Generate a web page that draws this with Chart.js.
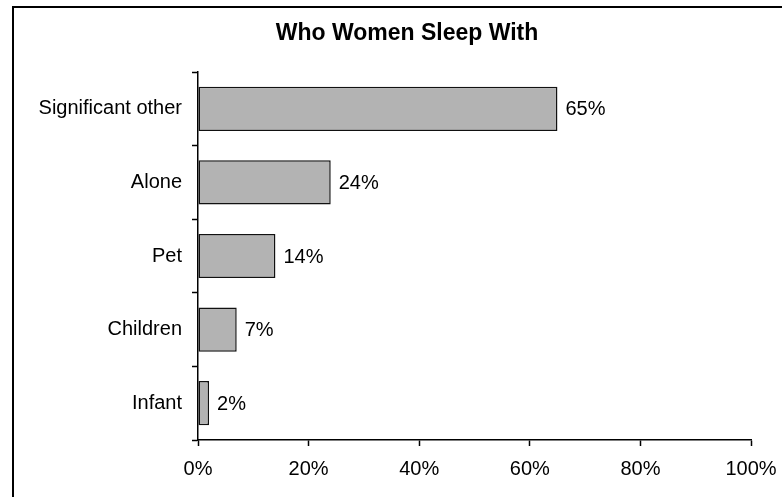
<!DOCTYPE html>
<html lang="en">
<head>
    <meta charset="UTF-8">
    <title>Who Women Sleep With</title>
    <script src="https://cdn.jsdelivr.net/npm/chart.js"></script>
    <style>
        body { margin: 0; background: #fff; }
        #wrap { position: relative; width: 782px; height: 497px; overflow: hidden; }
        /* frame of the original picture, only left and top edges visible */
        #frame {
          position: absolute;
          left: 12px;
          top: 6px;
          width: 900px;
          height: 600px;
          border-left: 2px solid #000;
          border-top: 2px solid #000;
        }
        #myChart { position: absolute; left: 0; top: 0; }
    </style>
</head>
<body>

<div id="wrap">
    <div id="frame"></div>
    <canvas id="myChart" width="782" height="497"></canvas>
</div>

<script>
  // chart data
  var categories = ['Significant other', 'Alone', 'Pet', 'Children', 'Infant'];
  var shares = [65, 24, 14, 7, 2];
  var xTicks = [0, 20, 40, 60, 80, 100];
  var chartTitle = 'Who Women Sleep With';

  var fontFamily = '"Liberation Sans", Arial, sans-serif';

  // title is centred a bit right of the canvas middle, like the original
  var titleText = {
    id: 'titleText',
    afterDraw: function(chart) {
      var ctx = chart.ctx;
      ctx.save();
      ctx.font = 'bold 23px ' + fontFamily;
      ctx.fillStyle = '#000';
      ctx.textAlign = 'center';
      ctx.textBaseline = 'middle';
      ctx.fillText(chartTitle, 407, 34);
      ctx.restore();
    }
  };

  // writes the value just right of each bar
  var valueLabels = {
    id: 'valueLabels',
    afterDatasetsDraw: function(chart) {
      var ctx = chart.ctx;
      var meta = chart.getDatasetMeta(0);
      ctx.save();
      ctx.font = '20px ' + fontFamily;
      ctx.fillStyle = '#000';
      ctx.textAlign = 'left';
      ctx.textBaseline = 'middle';
      meta.data.forEach(function(bar, i) {
        ctx.fillText(shares[i] + '%', bar.x + 8, bar.y + 1);
      });
      ctx.restore();
    }
  };

  var ctx = document.getElementById('myChart').getContext('2d');
  var myChart = new Chart(ctx, {
    type: 'bar',
    data: {
      labels: categories,
      datasets: [{
        data: shares,
        backgroundColor: '#b3b3b3',
        borderColor: '#111',
        borderWidth: 1.5,
        borderSkipped: false,
        barPercentage: 0.6,
        categoryPercentage: 1
      }]
    },
    options: {
      indexAxis: 'y',
      responsive: false,
      animation: false,
      layout: { padding: { left: 0, right: 31, top: 72, bottom: 0 } },
      plugins: {
        legend: { display: false },
        tooltip: { enabled: false },
        title: { display: false }
      },
      scales: {
        x: {
          min: 0,
          max: 100,
          afterFit: function(scale) {
            scale.height = 57;
            scale.paddingLeft = 0;
            scale.paddingRight = 0;
          },
          afterBuildTicks: function(scale) {
            scale.ticks = xTicks.map(function(v) { return { value: v }; });
          },
          ticks: {
            color: '#000',
            padding: 11,
            font: { family: fontFamily, size: 20 },
            callback: function(v) { return v + '%'; }
          },
          grid: {
            drawOnChartArea: false,
            tickLength: 6,
            tickColor: '#000',
            tickWidth: 1.5
          },
          border: { color: '#000', width: 1.5 }
        },
        y: {
          afterFit: function(scale) { scale.width = 198; },
          ticks: {
            color: '#000',
            padding: 10,
            font: { family: fontFamily, size: 20 }
          },
          grid: {
            offset: true,
            drawOnChartArea: false,
            tickLength: 6,
            tickColor: '#000',
            tickWidth: 1.5
          },
          border: { color: '#000', width: 1.5 }
        }
      }
    },
    plugins: [valueLabels, titleText]
  });
</script>

</body>
</html>
